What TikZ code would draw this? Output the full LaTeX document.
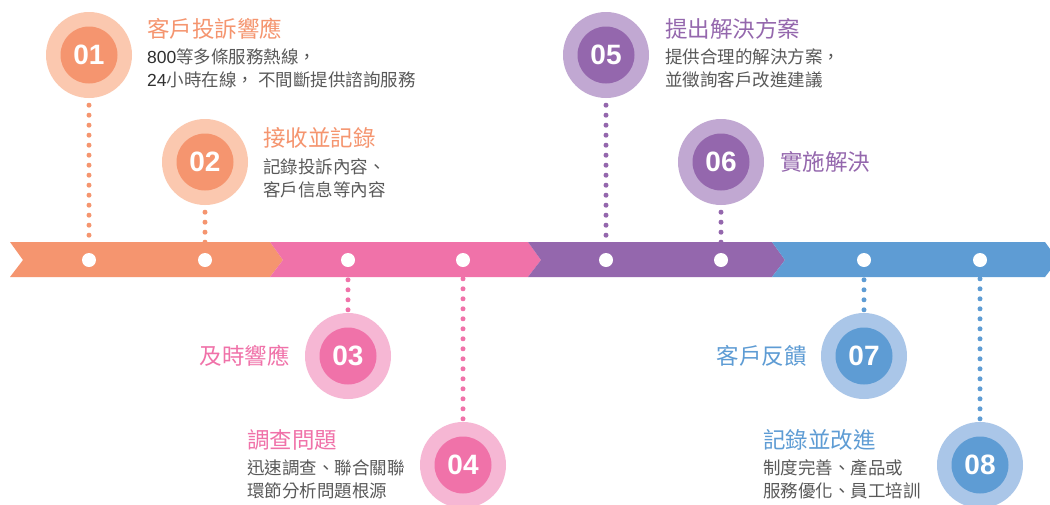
\documentclass[tikz,border=0pt]{standalone}
\usepackage{fontspec}
\setmainfont{Noto Sans CJK TC}
\newfontfamily\latf{Liberation Sans}
\definecolor{cOr}{HTML}{F5956F}
\definecolor{lOr}{HTML}{FBC8AF}
\definecolor{cPk}{HTML}{F072A9}
\definecolor{lPk}{HTML}{F6B7D4}
\definecolor{cPu}{HTML}{9467AD}
\definecolor{lPu}{HTML}{C1A8D2}
\definecolor{cBl}{HTML}{5E9CD4}
\definecolor{lBl}{HTML}{AAC6E8}
\definecolor{txt}{HTML}{595959}
\definecolor{dig}{HTML}{303030}
\pgfdeclarelayer{bg}
\pgfsetlayers{bg,main}
\newcommand{\dg}[1]{{\latf\color{dig}#1}}
\begin{document}
\begin{tikzpicture}[x=1pt,y=-1pt,
  outer/.style={circle, fill=#1, minimum size=86pt, inner sep=0pt},
  inner/.style={circle, fill=#1, minimum size=57pt, inner sep=0pt, text=white,
    font=\latf\bfseries\fontsize{28}{28}\selectfont},
  wdot/.style={circle, fill=white, minimum size=14pt, inner sep=0pt},
  dotline/.style={draw=#1, line width=5pt, line cap=round, dash pattern=on 0pt off 10pt},
  ttl/.style={anchor=base west, inner sep=0pt, text=#1, font=\fontsize{22.5}{22.5}\selectfont},
  ttlr/.style={anchor=base east, inner sep=0pt, text=#1, font=\fontsize{22.5}{22.5}\selectfont},
  bod/.style={anchor=base west, inner sep=0pt, text=txt, font=\fontsize{17.5}{17.5}\selectfont}]
\useasboundingbox (0,0) rectangle (1050,504);
\begin{pgfonlayer}{bg}
\fill[white] (0,0) rectangle (1050,504);
\end{pgfonlayer}
% band
\fill[cOr] (10,242) -- (270,242) -- (283,260) -- (270,277) -- (10,277) -- (23,260) -- cycle;
\fill[cPk] (270,242) -- (528,242) -- (541,260) -- (528,277) -- (270,277) -- (283,260) -- cycle;
\fill[cPu] (528,242) -- (772,242) -- (785,260) -- (772,277) -- (528,277) -- (541,260) -- cycle;
\fill[cBl] (772,242) -- (1045,242) -- (1058,260) -- (1045,277) -- (772,277) -- (785,260) -- cycle;
% band dots
\node[wdot] (d1) at (89,260) {};
\node[wdot] (d2) at (205,260) {};
\node[wdot] (d3) at (348,260) {};
\node[wdot] (d4) at (463,260) {};
\node[wdot] (d5) at (606,260) {};
\node[wdot] (d6) at (721,260) {};
\node[wdot] (d7) at (864,260) {};
\node[wdot] (d8) at (980,260) {};
% circles
\node[outer=lOr] (c1) at (89,55) {};
\node[inner=cOr] (n1) at (c1.center) {01};
\node[outer=lOr] (c2) at (205,162) {};
\node[inner=cOr] (n2) at (c2.center) {02};
\node[outer=lPk] (c3) at (348,356) {};
\node[inner=cPk] (n3) at (c3.center) {03};
\node[outer=lPk] (c4) at (463,465) {};
\node[inner=cPk] (n4) at (c4.center) {04};
\node[outer=lPu] (c5) at (606,55) {};
\node[inner=cPu] (n5) at (c5.center) {05};
\node[outer=lPu] (c6) at (721,162) {};
\node[inner=cPu] (n6) at (c6.center) {06};
\node[outer=lBl] (c7) at (864,356) {};
\node[inner=cBl] (n7) at (c7.center) {07};
\node[outer=lBl] (c8) at (980,465) {};
\node[inner=cBl] (n8) at (c8.center) {08};
% dotted connectors
\begin{pgfonlayer}{bg}
\draw[dotline=cOr] ([yshift=-7pt]c1.south) -- (d1.center);
\draw[dotline=cOr] ([yshift=-7pt]c2.south) -- (d2.center);
\draw[dotline=cPk] ([yshift=3pt]c3.north) -- (d3.center);
\draw[dotline=cPk] ([yshift=3pt]c4.north) -- (d4.center);
\draw[dotline=cPu] ([yshift=-7pt]c5.south) -- (d5.center);
\draw[dotline=cPu] ([yshift=-7pt]c6.south) -- (d6.center);
\draw[dotline=cBl] ([yshift=3pt]c7.north) -- (d7.center);
\draw[dotline=cBl] ([yshift=3pt]c8.north) -- (d8.center);
\end{pgfonlayer}
% texts
\node[ttl=cOr] (t1) at (147,37.5) {客戶投訴響應};
\node[bod] (b1a) at (147,63.7) {\dg{800}等多條服務熱線，};
\node[bod] (b1b) at (147,86.7) {\dg{24}小時在線， 不間斷提供諮詢服務};
\node[ttl=cOr] (t2) at (263,146.5) {接收並記錄};
\node[bod] (b2a) at (263,173.7) {記錄投訴內容、};
\node[bod] (b2b) at (263,196.7) {客戶信息等內容};
\node[ttlr=cPk] (t3) at (290,364.5) {及時響應};
\node[ttl=cPk] (t4) at (247,448.5) {調查問題};
\node[bod] (b4a) at (247,474.7) {迅速調查、聯合關聯};
\node[bod] (b4b) at (247,497.7) {環節分析問題根源};
\node[ttl=cPu] (t5) at (665,37.5) {提出解決方案};
\node[bod] (b5a) at (665,63.7) {提供合理的解決方案，};
\node[bod] (b5b) at (665,86.7) {並徵詢客戶改進建議};
\node[ttl=cPu] (t6) at (780,170.5) {實施解決};
\node[ttlr=cBl] (t7) at (807,364.5) {客戶反饋};
\node[ttl=cBl] (t8) at (763,448.5) {記錄並改進};
\node[bod] (b8a) at (763,474.7) {制度完善、產品或};
\node[bod] (b8b) at (763,497.7) {服務優化、員工培訓};
\end{tikzpicture}
\end{document}
